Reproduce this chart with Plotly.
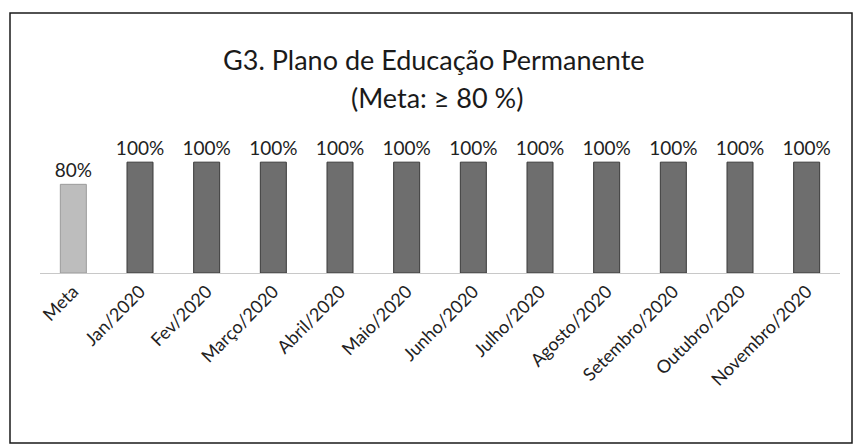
import plotly.graph_objects as go

categories = ["Meta", "Jan/2020", "Fev/2020", "Março/2020", "Abril/2020", "Maio/2020",
              "Junho/2020", "Julho/2020", "Agosto/2020", "Setembro/2020", "Outubro/2020",
              "Novembro/2020"]
values = [0.80, 1.00, 1.00, 1.00, 1.00, 1.00, 1.00, 1.00, 1.00, 1.00, 1.00, 1.00]
labels = ["80%"] + ["100%"] * 11
title_lines = ["G3. Plano de Educação Permanente", "(Meta: ≥ 80 %)"]
colors = ["#bdbdbd"] + ["#6e6e6e"] * 11
line_colors = ["#9a9a9a"] + ["#3a3a3a"] * 11

W, H = 856, 446
ml, mr, mt, mb = 40, 16, 140, 173
pw, ph = W - ml - mr, H - mt - mb

fig = go.Figure(go.Bar(
    x=categories, y=values, text=labels, textposition="outside",
    constraintext="none",
    textfont=dict(size=19, color="#222222", family="Lato, Open Sans, sans-serif"),
    marker=dict(color=colors, line=dict(color=line_colors, width=1)),
    cliponaxis=False,
))

def px_x(p):
    return (p - ml) / pw

def px_y(p):
    return (H - mb - p) / ph

fig.update_layout(
    width=W, height=H,
    margin=dict(l=ml, r=mr, t=mt, b=mb),
    paper_bgcolor="white", plot_bgcolor="white",
    bargap=0.61,
    showlegend=False,
    font=dict(family="Lato, Open Sans, sans-serif", color="#222222"),
    annotations=[
        dict(text=title_lines[0], xref="paper", yref="paper",
             x=px_x(434), y=px_y(59), xanchor="center", yanchor="middle",
             showarrow=False, font=dict(size=27, color="#1a1a1a")),
        dict(text=title_lines[1], xref="paper", yref="paper",
             x=px_x(437), y=px_y(97), xanchor="center", yanchor="middle",
             showarrow=False, font=dict(size=27, color="#1a1a1a")),
    ],
    xaxis=dict(
        tickangle=-45, tickfont=dict(size=18, color="#222222"),
        showline=True, linecolor="#c8c8c8", linewidth=1,
        showgrid=False, ticks="",
    ),
    yaxis=dict(range=[0, 1.2], visible=False, showgrid=False),
    shapes=[dict(
        type="rect", xref="paper", yref="paper",
        x0=px_x(10), x1=px_x(852), y0=px_y(443), y1=px_y(13),
        line=dict(color="#1a1a1a", width=1.5), fillcolor="rgba(0,0,0,0)",
    )],
)

fig.write_html("out.html", config={"displayModeBar": False},
               post_script="document.body.style.margin='0';document.body.style.overflow='hidden';")
